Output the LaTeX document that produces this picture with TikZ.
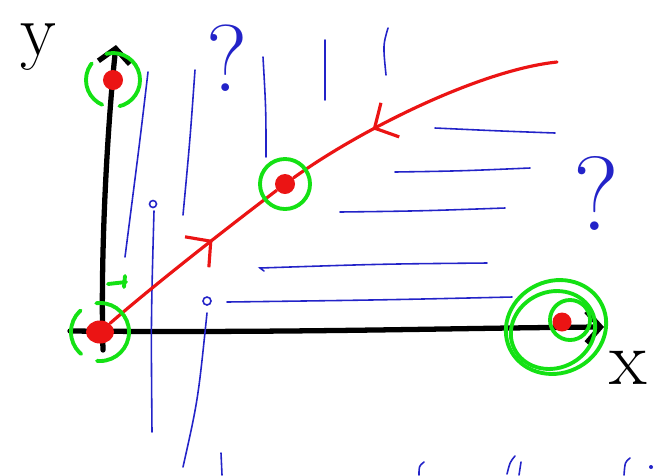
\documentclass[tikz,border=0pt]{standalone}
\usetikzlibrary{arrows.meta,decorations.markings,shapes.geometric}
\definecolor{pen}{RGB}{35,35,200}
\definecolor{ink}{RGB}{235,20,20}
\definecolor{ring}{RGB}{20,225,20}
\tikzset{
  axis/.style={line width=1.5pt,line cap=round,-{Straight Barb[length=4pt,width=9pt]}},
  flow/.style={ink,line width=0.9pt,line cap=round},
  midarrow/.style={postaction={decorate,decoration={markings,
      mark=at position #1 with {\arrow{Straight Barb[length=5pt,width=11pt,line width=0.9pt]}}}}},
  fixpt/.style={circle,fill=ink,inner sep=0pt},
  hoop/.style={ring,line width=1.1pt,line cap=round},
  broken/.style={hoop,dash pattern=on 14pt off 5pt},
  stroke/.style={pen,line width=0.45pt,line cap=round},
}
\begin{document}
\begin{tikzpicture}[x=0.01cm,y=-0.01cm]
\useasboundingbox (0,0) rectangle (658,475);

% axes
\coordinate (xs) at (70,331);
\coordinate (xe) at (604,327);
\coordinate (ys) at (103,350);
\coordinate (ye) at (116,45);
\draw[axis] (xs) .. controls (300,333) and (450,328) .. (xe);
\draw[axis] (ys) .. controls (100,250) and (108,120) .. (ye);
\node[inner sep=0pt] (ylab) at (38,47) {\fontsize{21}{21}\selectfont y};
\node (xlab) at (628,368) {\fontsize{22}{22}\selectfont x};

% blue field lines
\begin{scope}[stroke]
  \draw (148,72) .. controls (140,140) .. (125,257);
  \draw (195,70) .. controls (190,140) .. (183,215);
  \draw (263,57) .. controls (266,110) .. (266,157);
  \draw (325,40) -- (325,100);
  \draw (388,28) .. controls (383,45) .. (386,75);
  \draw (153,204) circle (0.035cm);
  \draw (154,211) .. controls (151,320) .. (152,432);
  \draw (207,301) circle (0.04cm);
  \draw (207,313) .. controls (198,400) .. (183,467);
  \draw (221,453) -- (222,475);
  \draw (435,128) .. controls (500,131) .. (555,133);
  \draw (395,172) .. controls (460,171) .. (530,168);
  \draw (340,212) .. controls (420,211) .. (505,208);
  \draw (264,271) -- (260,268) .. controls (380,264) .. (487,263);
  \draw (227,302) .. controls (380,300) .. (512,297);
  \draw (424,462) .. controls (419,466) .. (419,475);
  \draw (507,474) .. controls (510,462) .. (515,456);
  \draw (519,475) -- (521,462);
  \draw (630,458) .. controls (625,462) .. (624,475);
  \fill (651,467) circle (0.02cm);
\end{scope}
\node[pen] (q1) at (227,58) {\fontsize{27}{27}\selectfont ?};
\node[pen] (q2) at (596,193) {\fontsize{30}{30}\selectfont ?};

% fixed points
\begin{scope}[every node/.style={fixpt}]
  \node[minimum width=0.28cm,minimum height=0.23cm,ellipse] (O) at (100,332) {};
  \node[minimum size=0.2cm] (T) at (113,80) {};
  \node[minimum size=0.2cm] (M) at (285,184) {};
  \node[minimum size=0.19cm] (R) at (562,322) {};
\end{scope}
\coordinate (far) at (557,62);

% trajectory
\draw[flow,midarrow=0.62] (O) .. controls (160,280) and (235,222) .. (M);
\draw[flow,midarrow=0.68] (far) .. controls (480,70) and (360,130) .. (M);

% green rings
\draw[hoop] (M) circle (0.25cm);
\draw[broken] (O) circle (0.29cm);
\draw[broken] (T) circle (0.27cm);
\draw[hoop] (125,276) -- (124,287) (108,284) -- (126,282);
\draw[hoop] (556,327) ellipse [x radius=0.51cm,y radius=0.46cm,rotate=25];
\draw[hoop] (553,330) ellipse [x radius=0.43cm,y radius=0.38cm,rotate=25];
\draw[hoop] (570,320) circle (0.2cm);
\end{tikzpicture}
\end{document}
